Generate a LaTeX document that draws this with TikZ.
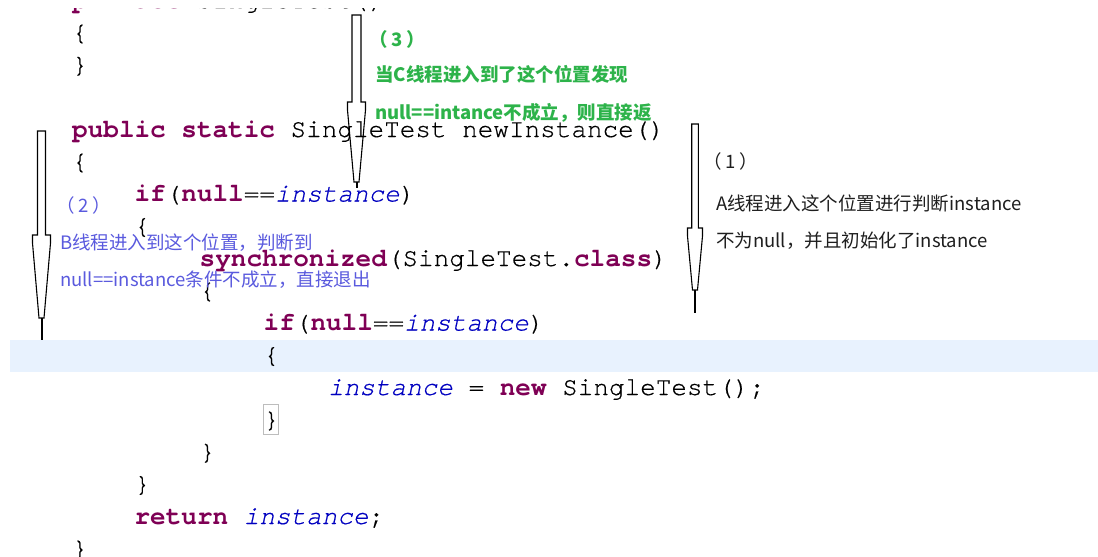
\documentclass[tikz,border=0pt]{standalone}
\usepackage{fontspec}
\newfontfamily\codefont{TeX Gyre Cursor}[UprightFeatures={FakeBold=0.5},ItalicFeatures={FakeBold=0.5}]
\newfontfamily\cjkfont{Noto Sans CJK SC}
\definecolor{kwcol}{HTML}{7F0055}
\definecolor{fldcol}{HTML}{0000C0}
\definecolor{hlcol}{HTML}{E8F2FE}
\definecolor{ngreen}{HTML}{2DB34A}
\definecolor{nblue}{HTML}{5A5ADE}
\definecolor{nblack}{HTML}{1E1E1E}
\definecolor{boxgray}{HTML}{BDBDBD}
\newcommand{\kwd}[1]{\textcolor{kwcol}{\bfseries #1}}
\newcommand{\fldi}[1]{\textcolor{fldcol}{\itshape #1}}
\newcommand{\numpar}[1]{（\hspace{4pt}#1\hspace{4pt}）}
\newcommand{\thinarrow}[7]{%
  \draw[arrowline] (#1-#4,#2) -- (#1+#4,#2) -- (#1+#4,#3) -- (#1+#5,#3) -- (#1+#5,#3+8)
    -- (#1+2.5,#6) -- (#1-2.5,#6) -- (#1-#5,#3+8) -- (#1-#5,#3) -- (#1-#4,#3) -- cycle;
  \draw[tailline] (#1,#6) -- (#1,#7);}
\tikzset{
  code/.style={font=\codefont\fontsize{26}{26}\selectfont, inner sep=0pt, anchor=base west, text=black},
  note/.style={font=\cjkfont\fontsize{18.5}{18.5}\selectfont, inner sep=0pt, anchor=base west},
  gnote/.style={note, font=\cjkfont\bfseries\fontsize{18.5}{18.5}\selectfont, text=ngreen},
  bnote/.style={note, text=nblue},
  knote/.style={note, text=nblack},
  arrowline/.style={draw=black, line width=1.1pt, line join=miter},
  tailline/.style={draw=black, line width=2pt},
}
\begin{document}
\begin{tikzpicture}[x=1pt,y=-1pt]
\useasboundingbox (0,0) rectangle (1098,557);
\clip (0,0) rectangle (1098,557);
\fill[white] (0,0) rectangle (1098,557);
% highlighted current line
\fill[hlcol] (10,340) rectangle (1098,372);
% first line: only its lowest part is visible
\begin{scope}
  \clip (0,8.8) rectangle (1098,30);
  \node[code] (l0)  at (72,8) {\kwd{private} SingleTest()};
\end{scope}
% code lines (baseline = 8 + 32.25 k)
\node[code] (l1)  at (72,40.25)  {\{};
\node[code] (l2)  at (72,72.5)   {\}};
\node[code] (l4)  at (72,137)    {\kwd{public} \kwd{static} SingleTest newInstance()};
\node[code] (l5)  at (72,169.25) {\{};
\node[code] (l6)  at (134.4,201.5) {\kwd{if}(\kwd{null}==\fldi{instance})};
\node[code] (l7)  at (134.4,233.75) {\{};
\node[code] (l8)  at (199.5,266)  {\kwd{synchronized}(SingleTest.\kwd{class})};
\node[code] (l9)  at (199.5,298.25) {\{};
\node[code] (l10) at (263.5,330.5) {\kwd{if}(\kwd{null}==\fldi{instance})};
\node[code] (l11) at (263.5,362.75) {\{};
\node[code] (l12) at (328,395)  {\fldi{instance} = \kwd{new} SingleTest();};
\node[code] (l13) at (263.5,427.25) {\}};
\node[code] (l14) at (199.5,459.5) {\}};
\node[code] (l15) at (134.4,491.75) {\}};
\node[code] (l16) at (134.4,524)  {\kwd{return} \fldi{instance};};
\node[code] (l17) at (72,556.25)  {\}};
% matching-bracket box
\draw[boxgray, line width=1pt] (263.5,404.5) rectangle (278.5,434.5);
% annotation (3), green
\node[gnote] (n3a) at (369,46)  {\numpar{3}};
\node[gnote] (n3b) at (375,81.5) {当C线程进入到了这个位置发现};
\node[gnote] (n3c) at (375,119.5) {null==intance不成立，则直接返};
% annotation (2), blue
\node[bnote] (n2a) at (56,212)  {\numpar{2}};
\node[bnote] (n2b) at (60,249.5) {B线程进入到这个位置，判断到};
\node[bnote] (n2c) at (60,286.5) {null==instance条件不成立，直接退出};
% annotation (1), black
\node[knote] (n1a) at (703,168) {\numpar{1}};
\node[knote] (n1b) at (716,210.5) {A线程进入这个位置进行判断instance};
\node[knote] (n1c) at (716,247) {不为null，并且初始化了instance};
% thin block arrows
\thinarrow{695}{124}{228}{3.3}{7.5}{290}{313}
\thinarrow{41.5}{131}{235}{4}{9}{318}{340}
\thinarrow{356.5}{15}{102}{4.5}{9}{182}{188}
\end{tikzpicture}
\end{document}
